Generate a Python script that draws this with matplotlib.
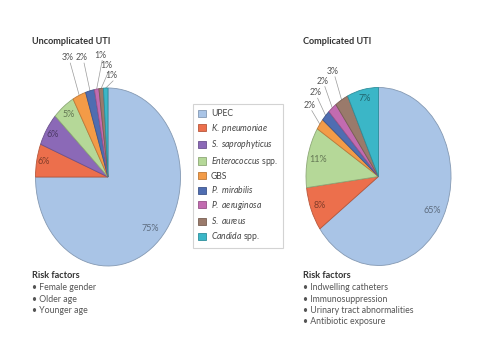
import matplotlib
matplotlib.use("Agg")
import matplotlib.pyplot as plt
import matplotlib.colors as mcolors
import numpy as np

plt.rcParams['font.family'] = ['Lato', 'DejaVu Sans']
plt.rcParams['mathtext.fontset'] = 'custom'
plt.rcParams['mathtext.rm'] = 'Lato'
plt.rcParams['mathtext.it'] = 'Lato:italic'

# ---------------- data ----------------
organisms = ["UPEC", "K. pneumoniae", "S. saprophyticus", "Enterococcus spp.",
             "GBS", "P. mirabilis", "P. aeruginosa", "S. aureus", "Candida spp."]
legend_labels = ["UPEC", r"$\it{K.\ pneumoniae}$", r"$\it{S.\ saprophyticus}$",
                 r"$\it{Enterococcus}$ spp.", "GBS", r"$\it{P.\ mirabilis}$",
                 r"$\it{P.\ aeruginosa}$", r"$\it{S.\ aureus}$", r"$\it{Candida}$ spp."]
uncomplicated = [75, 6, 6, 5, 3, 2, 1, 1, 1]
complicated = [65, 8, 0, 11, 2, 2, 2, 3, 7]
titles = ["Uncomplicated UTI", "Complicated UTI"]
risk_unc = ["Female gender", "Older age", "Younger age"]
risk_comp = ["Indwelling catheters", "Immunosuppression",
             "Urinary tract abnormalities", "Antibiotic exposure"]

colors = ["#a9c4e6", "#ec6f4c", "#8b69b7", "#b5d898", "#f39b47",
          "#4f6db1", "#c26bb0", "#9a7a6b", "#3bb6c7"]

# ---------------- layout ----------------
W, H = 480, 360
fig = plt.figure(figsize=(4.8, 3.6), dpi=100)
fig.patch.set_facecolor("white")

def px(x, y):
    return x / W, 1 - y / H

# label placement per wedge: ('in', r) or ('out', (x, y)) in normalized axes units
layout_unc = [('in', 0.82), ('in', 0.90), ('in', 0.90), ('in', 0.89),
              ('out', (-0.55, 1.34)), ('out', (-0.36, 1.34)), ('out', (-0.11, 1.37)),
              ('out', (-0.02, 1.25)), ('out', (0.04, 1.14))]
layout_comp = [('in', 0.83), ('in', 0.87), None, ('in', 0.86),
               ('out', (-0.95, 0.80)), ('out', (-0.87, 0.94)), ('out', (-0.77, 1.07)),
               ('out', (-0.63, 1.18)), ('in', 0.90)]

def darker(c, f=0.55):
    r, g, b = mcolors.to_rgb(c)
    return (r * f, g * f, b * f)

def draw_pie(rect, values, layout):
    ax = fig.add_axes(rect)
    idx = [i for i, v in enumerate(values) if v > 0]
    vals = [values[i] for i in idx]
    cols = [colors[i] for i in idx]
    wedges, _ = ax.pie(vals, colors=cols, startangle=90, counterclock=False,
                       radius=1.0, wedgeprops=dict(linewidth=0.6))
    for w, i in zip(wedges, idx):
        w.set_edgecolor(darker(colors[i], 0.78))
    ax.set_aspect('auto')
    ax.set_xlim(-1, 1)
    ax.set_ylim(-1, 1)
    ax.axis('off')
    for w, i in zip(wedges, idx):
        mid = np.deg2rad((w.theta1 + w.theta2) / 2)
        kind, p = layout[i]
        txt = f"{values[i]}%"
        if kind == 'in':
            ax.text(p * np.cos(mid), p * np.sin(mid), txt, ha='center', va='center',
                    fontsize=6.5, color=darker(colors[i], 0.55))
        else:
            lx, ly = p
            ex, ey = np.cos(mid), np.sin(mid)
            ax.plot([lx + 0.03, ex], [ly - 0.06, ey], color="#9a9a9a", lw=0.5,
                    clip_on=False, zorder=0)
            ax.text(lx, ly, txt, ha='center', va='center', fontsize=6.3,
                    color="#555555", clip_on=False)
    return ax, wedges

rx, ry = 72.5, 89
cxL, cyL = 108, 177
cxR, cyR = 378.5, 176.5
axL, wedgesL = draw_pie([(cxL - rx) / W, 1 - (cyL + ry) / H, 2 * rx / W, 2 * ry / H],
                        uncomplicated, layout_unc)
axR, wedgesR = draw_pie([(cxR - rx) / W, 1 - (cyR + ry) / H, 2 * rx / W, 2 * ry / H],
                        complicated, layout_comp)

# titles
fig.text(*px(32, 42), titles[0], fontsize=6.6, fontweight='bold', color="#333333",
         va='center', ha='left')
fig.text(*px(303, 42), titles[1], fontsize=6.6, fontweight='bold', color="#333333",
         va='center', ha='left')

# legend
leg = fig.legend(wedgesL, legend_labels, loc='upper left',
                 bbox_to_anchor=px(193, 104), bbox_transform=fig.transFigure,
                 fontsize=6.2, frameon=True, fancybox=False, borderpad=0.6,
                 handlelength=0.9, handleheight=0.9, handletextpad=0.6,
                 labelspacing=0.42, borderaxespad=0)
leg.get_frame().set_edgecolor("#c8c8c8")
leg.get_frame().set_linewidth(0.8)
for t in leg.get_texts():
    t.set_color("#444444")

# risk factors
def risk_block(x, y, items):
    fig.text(*px(x, y), "Risk factors", fontsize=6.6, fontweight='bold',
             color="#333333", va='center', ha='left')
    for k, it in enumerate(items):
        fig.text(*px(x, y + 11.5 * (k + 1)), "\u2022 " + it, fontsize=6.3,
                 color="#555555", va='center', ha='left')

risk_block(32, 276, risk_unc)
risk_block(303, 276, risk_comp)

fig.savefig("out.png", dpi=100, facecolor="white")
